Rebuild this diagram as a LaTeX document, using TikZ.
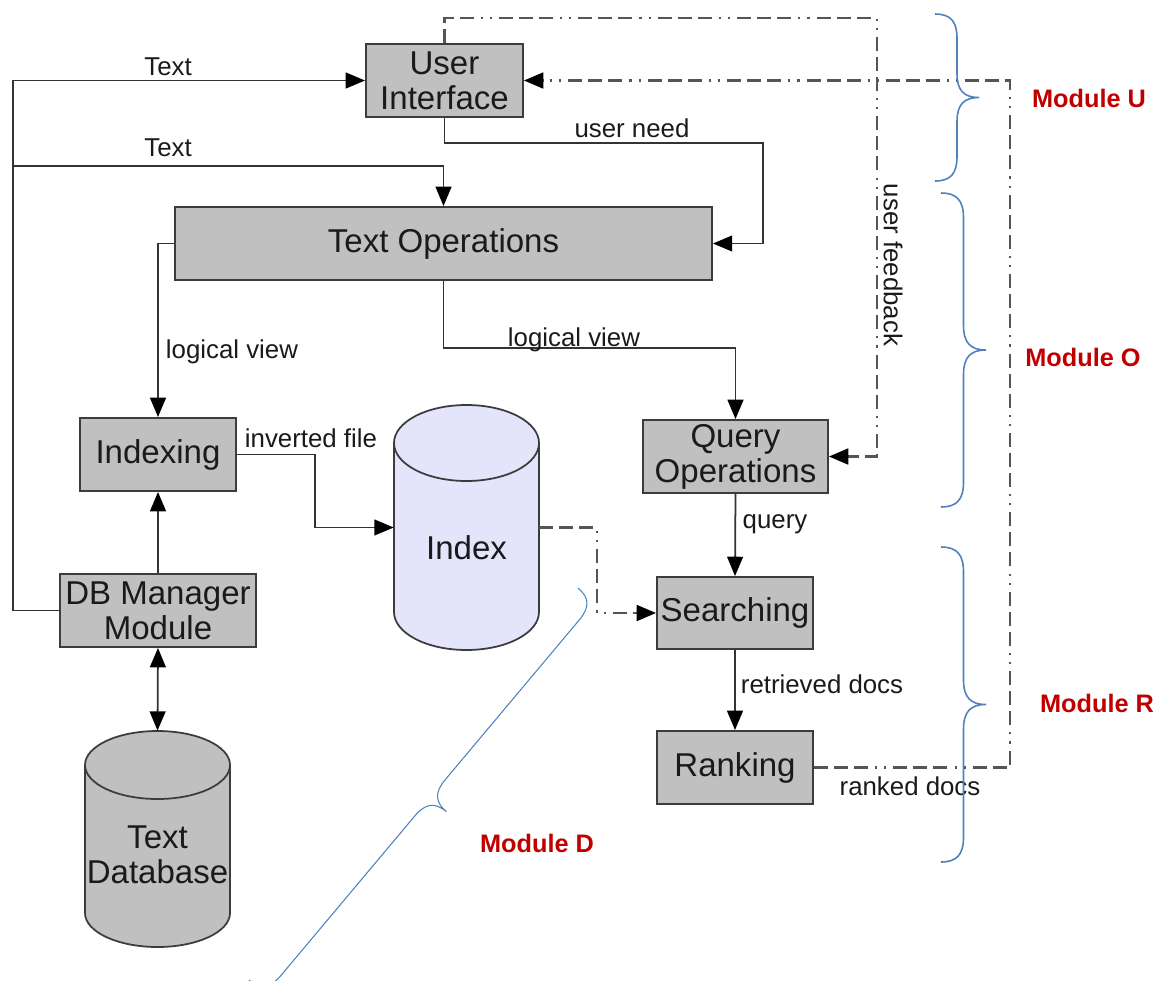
\documentclass[tikz,border=0pt]{standalone}
\usepackage{fontspec}
\setmainfont{Liberation Sans}
\usetikzlibrary{arrows.meta}
\definecolor{boxfill}{HTML}{C0C0C0}
\definecolor{boxline}{HTML}{3C3C3C}
\definecolor{connline}{HTML}{333333}
\definecolor{dashline}{HTML}{555555}
\definecolor{idxfill}{HTML}{E4E4FB}
\definecolor{bracecol}{HTML}{4F81BD}
\definecolor{modred}{HTML}{C00000}
\definecolor{txt}{HTML}{1A1A1A}
\newcommand\bracepath[3]{%
  \pgfmathsetmacro\brL{#1}%
  \pgfmathsetmacro\brA{#2}%
  \pgfmathsetmacro\brC{0.55*#2}%
  \pgfmathsetmacro\brM{#1/2}%
  \draw[#3] (0,0) .. controls ({0.35*\brA},0) and ({\brA/2},{0.3*\brC}) .. ({\brA/2},\brC)
    -- ({\brA/2},{\brM-\brC}) .. controls ({\brA/2},{\brM-0.3*\brC}) and ({0.65*\brA},\brM) .. (\brA,\brM)
    .. controls ({0.65*\brA},\brM) and ({\brA/2},{\brM+0.3*\brC}) .. ({\brA/2},{\brM+\brC})
    -- ({\brA/2},{\brL-\brC}) .. controls ({\brA/2},{\brL-0.3*\brC}) and ({0.35*\brA},\brL) .. (0,\brL);}
\tikzset{
  box/.style={draw=boxline, fill=boxfill, line width=1.1pt, align=center, inner sep=0pt,
    text=txt, font=\fontsize{18.8}{20}\selectfont},
  cylnode/.style={inner sep=0pt},
  cylshape/.style={draw=boxline, line width=1pt},
  tip/.style={-{Triangle[length=11pt,width=9pt,color=black,fill=black]}},
  conn/.style={draw=connline, line width=1pt, tip},
  dconn/.style={draw=connline, line width=1pt, {Triangle[length=11pt,width=9pt,color=black,fill=black]}-{Triangle[length=11pt,width=9pt,color=black,fill=black]}},
  ddot/.style={draw=dashline, line width=1.3pt,
    dash pattern=on 8pt off 3.4pt on 8pt off 3.4pt on 8pt off 4pt on 1.2pt off 4pt on 1.2pt off 4pt},
  ddotarr/.style={ddot, tip},
  lbl/.style={text=txt, font=\fontsize{14.7}{16}\selectfont, inner sep=0pt},
  cyltext/.style={text=txt, font=\fontsize{18.8}{20}\selectfont, align=center, inner sep=0pt},
  modlbl/.style={text=modred, font=\fontsize{14.4}{16}\selectfont\bfseries, inner sep=0pt},
  bracestyle/.style={draw=bracecol, line width=0.9pt},
  thinbrace/.style={draw=bracecol, line width=0.6pt},
}
\begin{document}
\begin{tikzpicture}[x=0.02cm,y=-0.02cm]
\useasboundingbox (0,0) rectangle (1157,981);

% boxes
\node[box, minimum width=3.14cm, minimum height=1.46cm] (ui) at (444.5,80.5) {User\\Interface};
\node[box, minimum width=10.74cm, minimum height=1.46cm] (textops) at (443.5,243.5) {Text Operations};
\node[box, minimum width=3.12cm, minimum height=1.46cm] (indexing) at (158,454.5) {Indexing};
\node[box, minimum width=3.92cm, minimum height=1.46cm] (dbm) at (158,610.5) {DB Manager\\Module};
\node[box, minimum width=3.7cm, minimum height=1.46cm] (qops) at (735.5,456.5) {Query\\Operations};
\node[box, minimum width=3.12cm, minimum height=1.44cm] (search) at (735,613) {Searching};
\node[box, minimum width=3.12cm, minimum height=1.46cm] (rank) at (735,767.5) {Ranking};

% Index cylinder
\path[cylshape, fill=idxfill] (394,443) -- (394,612)
  arc[start angle=180, end angle=0, x radius=72.5, y radius=38] -- (539,443)
  arc[start angle=0, end angle=-180, x radius=72.5, y radius=38] -- cycle;
\draw[cylshape] (394,443) arc[start angle=180, end angle=0, x radius=72.5, y radius=38];
\node[cylnode, minimum width=2.9cm, minimum height=4.9cm] (idx) at (466.5,527.5) {};
\node[cyltext] (idxtext) at (466.5,548) {Index};

% Text Database cylinder
\path[cylshape, fill=boxfill] (85,765) -- (85,913)
  arc[start angle=180, end angle=0, x radius=72.5, y radius=34] -- (230,765)
  arc[start angle=0, end angle=-180, x radius=72.5, y radius=34] -- cycle;
\draw[cylshape] (85,765) arc[start angle=180, end angle=0, x radius=72.5, y radius=34];
\node[cylnode, minimum width=2.9cm, minimum height=4.32cm] (tdb) at (157.5,839) {};
\node[cyltext] (tdbtext) at (157.5,855) {Text\\Database};

% coordinates for bends
\coordinate (L) at (13,610.5);
\coordinate (Lb) at (13,166);
\coordinate (un) at (763,143);
\coordinate (lv) at (600,348);
\coordinate (ib) at (315,490);
\coordinate (is) at (597,570);
\coordinate (fb) at (877,18);
\coordinate (rk) at (1010,400);

% solid connectors
\draw[conn] (dbm.west) -- (L) |- (ui.west);
\draw[conn] (Lb) -| (textops.north);
\draw[conn] (ui.south) |- (un) |- (textops.east);
\draw[conn] (textops.west) -| (indexing.north);
\draw[conn] (textops.south) |- (lv) -| (qops.north);
\draw[conn] (indexing.east) -| (ib) |- (idx.west);
\draw[conn] (dbm.north) -- (indexing.south);
\draw[dconn] (dbm.south) -- (tdb.north);
\draw[conn] (qops.south) -- (search.north);
\draw[conn] (search.south) -- (rank.north);

% dash-dot connectors
\draw[ddotarr] (idx.east) -| (is) |- (search.west);
\draw[ddotarr] (ui.north) |- (fb) |- (qops.east);
\draw[ddotarr] (rank.east) -| (rk) |- (ui.east);

% labels
\node[lbl] (t1) at (168,67) {Text};
\node[lbl] (t2) at (168,148) {Text};
\node[lbl] (tun) at (632,128) {user need};
\node[lbl] (tlv1) at (232,352) {logical view};
\node[lbl] (tlv2) at (574,340) {logical view};
\node[lbl] (tinv) at (311,438) {inverted file};
\node[lbl] (tq) at (775,524) {query};
\node[lbl] (tret) at (822,684) {retrieved docs};
\node[lbl] (trank) at (910,786) {ranked docs};
\node[lbl, rotate=-90] (tfb) at (893,265) {user feedback};

% braces
\begin{scope}[shift={(935,14)}]\bracepath{167}{44}{bracestyle}\end{scope}
\begin{scope}[shift={(941,193)}]\bracepath{314}{45}{bracestyle}\end{scope}
\begin{scope}[shift={(941,547)}]\bracepath{315}{45}{bracestyle}\end{scope}
\begin{scope}[shift={(578,588)}, rotate=-40]\bracepath{511.8}{43}{thinbrace}\end{scope}

\node[modlbl] (mu) at (1089,98) {Module U};
\node[modlbl] (mo) at (1083,357) {Module O};
\node[modlbl] (mr) at (1097,703) {Module R};
\node[modlbl] (md) at (537,843) {Module D};
\end{tikzpicture}
\end{document}
